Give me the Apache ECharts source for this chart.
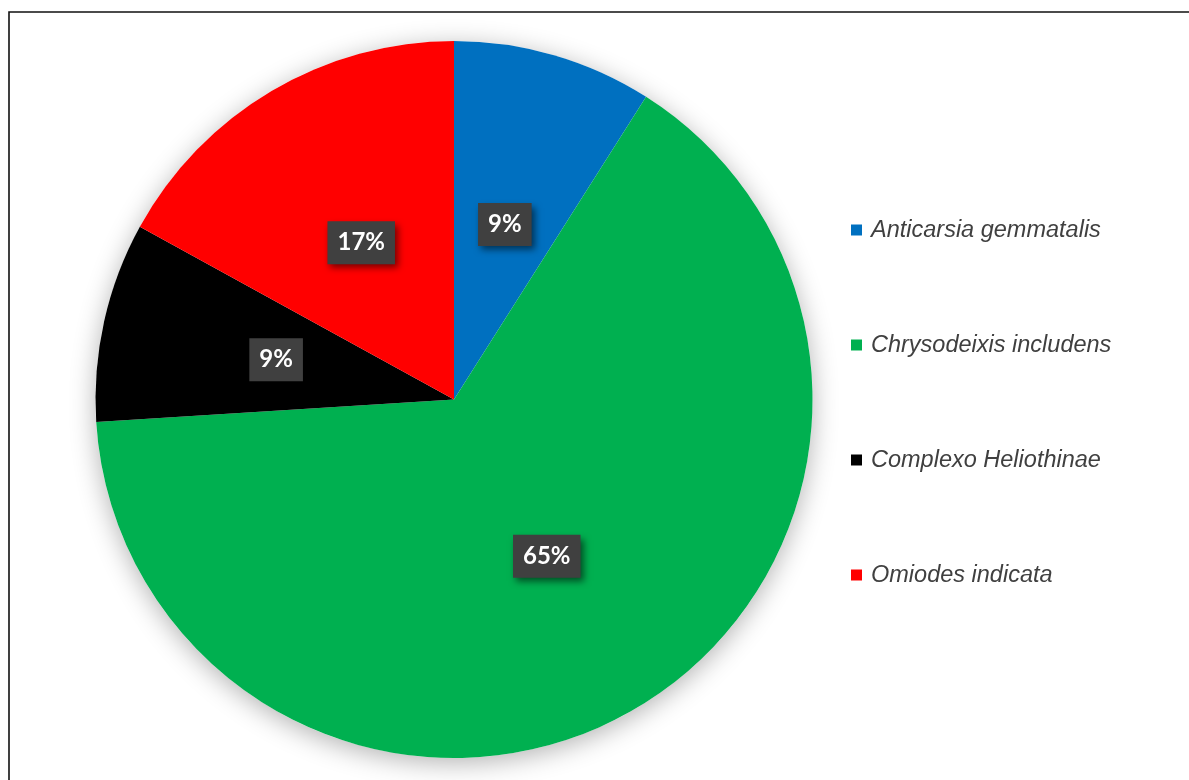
<!DOCTYPE html>
<html>
<head>
<meta charset="utf-8">
<script src="https://cdn.jsdelivr.net/npm/echarts@6/dist/echarts.min.js"></script>
<style>
  html, body { margin: 0; padding: 0; background: #ffffff; }
  #chart { width: 1189px; height: 780px; }
</style>
</head>
<body>
<div id="chart"></div>
<script>
// Species share of captured caterpillars (percent)
const species = ['Anticarsia gemmatalis', 'Chrysodeixis includens', 'Complexo Heliothinae', 'Omiodes indicata'];
const shares = [9, 65, 9, 17];
const sliceColors = ['#0070C0', '#00B050', '#000000', '#FF0000'];

const total = shares.reduce((a, b) => a + b, 0);
const chart = echarts.init(document.getElementById('chart'));

chart.setOption({
  backgroundColor: '#ffffff',
  animation: false,
  graphic: [{
    type: 'rect',
    silent: true,
    shape: { x: 9, y: 12, width: 1300, height: 900 },
    style: { fill: 'none', stroke: '#111111', lineWidth: 1.6 }
  }],
  legend: {
    orient: 'vertical',
    left: 851,
    top: 217,
    padding: 0,
    data: species,
    icon: 'rect',
    itemWidth: 11,
    itemHeight: 11,
    itemGap: 89,
    textStyle: {
      fontFamily: '"Liberation Sans", Arial, Helvetica, sans-serif',
      fontStyle: 'italic',
      fontSize: 23.5,
      lineHeight: 26,
      color: '#404040',
      padding: [0, 0, 0, 4]
    }
  },
  series: [
    {
      // soft drop shadow behind the whole pie
      type: 'pie',
      silent: true,
      center: [454, 399.5],
      radius: 358.5,
      z: 1,
      label: { show: false },
      labelLine: { show: false },
      itemStyle: {
        color: '#ffffff',
        shadowBlur: 26,
        shadowColor: 'rgba(0,0,0,0.3)',
        shadowOffsetX: 0,
        shadowOffsetY: 5
      },
      data: [{ name: '', value: total }]
    },
    {
      type: 'pie',
      center: [454, 399.5],
      radius: 358.5,
      startAngle: 90,
      clockwise: true,
      z: 2,
      itemStyle: { borderWidth: 0 },
      label: {
        show: true,
        position: 'inside',
        formatter: p => Math.round(p.value / total * 100) + '%',
        fontFamily: 'Lato, "Open Sans", sans-serif',
        fontWeight: 'bold',
        fontSize: 24,
        color: '#ffffff',
        backgroundColor: '#404040',
        padding: [10, 10, 9, 10],
        shadowColor: 'rgba(0,0,0,0.55)',
        shadowBlur: 7,
        shadowOffsetX: 3,
        shadowOffsetY: 4
      },
      labelLine: { show: false },
      data: species.map((name, i) => ({
        name: name,
        value: shares[i],
        itemStyle: { color: sliceColors[i] }
      }))
    }
  ]
});
</script>
</body>
</html>
